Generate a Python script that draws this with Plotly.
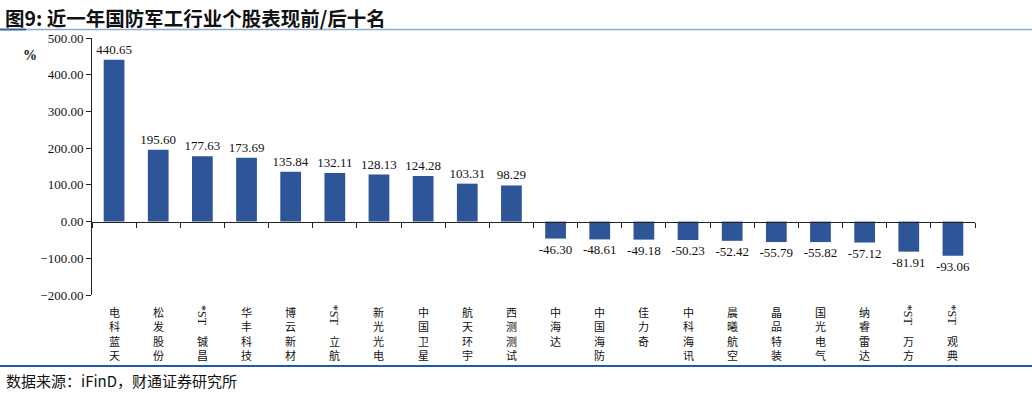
import plotly.graph_objects as go

categories = ["电科蓝天", "松发股份", "*ST铖昌", "华丰科技", "博云新材", "*ST立航", "新光光电", "中国卫星",
              "航天环宇", "西测测试", "中海达", "中国海防", "佳力奇", "中科海讯", "晨曦航空", "晶品特装",
              "国光电气", "纳睿雷达", "*ST万方", "*ST观典"]
values = [440.65, 195.60, 177.63, 173.69, 135.84, 132.11, 128.13, 124.28, 103.31, 98.29,
          -46.30, -48.61, -49.18, -50.23, -52.42, -55.79, -55.82, -57.12, -81.91, -93.06]
y_ticks = [-200, -100, 0, 100, 200, 300, 400, 500]

title_text = "图9: 近一年国防军工行业个股表现前/后十名"
source_text = "数据来源：iFinD，财通证券研究所"

BAR = "#2E5597"
SERIF = "Liberation Serif"
CJK = "Noto Sans CJK SC"

W, H = 1032, 393
ML, MR, MT, MB = 92, 57, 38, 98
PW, PH = W - ML - MR, H - MT - MB
ymin, ymax = -200, 500
LBL = 11
LH = LBL * 1.3

fig = go.Figure()
fig.add_trace(go.Bar(
    x=categories, y=values, marker=dict(color=BAR, line=dict(width=0)),
    text=[f"{v:.2f}" for v in values], textposition="outside", constraintext="none",
    textfont=dict(family=SERIF, size=13, color="#111"),
    cliponaxis=False, width=0.47,
))

annotations = []
for cat in categories:
    if cat.startswith("*ST"):
        annotations.append(dict(x=cat, xref="x", y=0, yref="paper", text="*ST", textangle=90,
                                showarrow=False, xanchor="center", yanchor="top", yshift=-8,
                                font=dict(family=SERIF, size=12, color="#111")))
        chars = list(cat[3:])
        shift = -(7 + 2 * LH)
    else:
        chars = list(cat)
        shift = -7
    annotations.append(dict(x=cat, xref="x", y=0, yref="paper", text="<br>".join(chars), showarrow=False,
                            xanchor="center", yanchor="top", yshift=shift,
                            font=dict(family=CJK, size=LBL, color="#111")))

annotations.append(dict(x=-62 / PW, xref="paper", y=1 - 18 / PH, yref="paper", text="<b>%</b>",
                        showarrow=False, xanchor="center", yanchor="middle",
                        font=dict(family=SERIF, size=14, color="#111")))
annotations.append(dict(x=-(ML - 3) / PW, xref="paper", y=1 + (MT - 0.5) / PH, yref="paper",
                        text="<b>" + title_text + "</b>", showarrow=False, xanchor="left", yanchor="top",
                        font=dict(family=CJK, size=19.5, color="#111")))
annotations.append(dict(x=-(ML - 4) / PW, xref="paper", y=-(380 - MT - PH) / PH, yref="paper",
                        text=source_text, showarrow=False, xanchor="left", yanchor="middle",
                        font=dict(family=CJK, size=15, color="#111")))

def px_x(p):
    return (p - ML) / PW

def px_y(p):
    return (MT + PH - p) / PH

shapes = [
    dict(type="line", xref="paper", yref="paper", x0=px_x(0), x1=px_x(26), y0=px_y(29.5), y1=px_y(29.5),
         line=dict(color="#2E5FA3", width=2)),
    dict(type="line", xref="paper", yref="paper", x0=px_x(26), x1=px_x(W), y0=px_y(29.5), y1=px_y(29.5),
         line=dict(color="#8FA8CC", width=1.5)),
    dict(type="line", xref="paper", yref="paper", x0=px_x(0), x1=px_x(W), y0=px_y(366), y1=px_y(366),
         line=dict(color="#1F5CA8", width=2)),
]

fig.update_layout(
    width=W, height=H, margin=dict(l=ML, r=MR, t=MT, b=MB),
    paper_bgcolor="white", plot_bgcolor="white", showlegend=False,
    annotations=annotations, shapes=shapes,
    xaxis=dict(anchor="free", position=(0 - ymin) / (ymax - ymin), showline=True, linecolor="#222",
               linewidth=1, ticks="outside", tickson="boundaries", ticklen=5, tickcolor="#222",
               showticklabels=False, showgrid=False, zeroline=False, range=[-0.5, 19.5]),
    yaxis=dict(range=[ymin, ymax], tickvals=y_ticks, tickformat=".2f", showline=True, linecolor="#222",
               linewidth=1, ticks="outside", ticklen=5, tickcolor="#222", showgrid=False, zeroline=False,
               tickfont=dict(family=SERIF, size=13, color="#111")),
)

fig.write_html("out.html")
